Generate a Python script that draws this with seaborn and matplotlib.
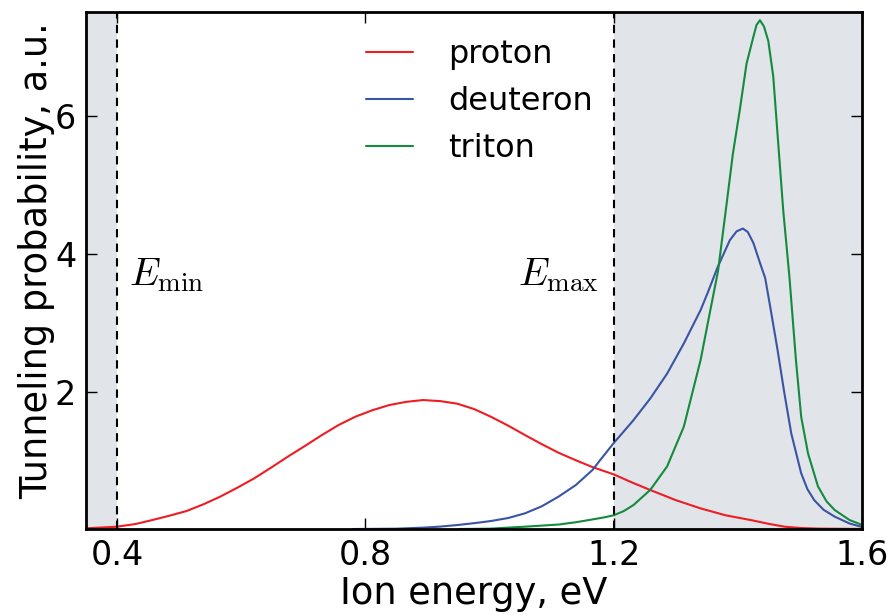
import numpy as np
import pandas as pd
import matplotlib
matplotlib.use("Agg")
import matplotlib.pyplot as plt
import seaborn as sns

# ---- data ----
proton_E = [0.35, 0.40, 0.43, 0.457, 0.485, 0.512, 0.539, 0.566, 0.594, 0.621, 0.648,
            0.675, 0.703, 0.730, 0.757, 0.784, 0.812, 0.839, 0.866, 0.893, 0.921,
            0.948, 0.975, 1.002, 1.030, 1.057, 1.084, 1.111, 1.139, 1.166, 1.20,
            1.23, 1.259, 1.30, 1.340, 1.38, 1.421, 1.45, 1.475, 1.50, 1.53, 1.60]
proton_P = [0.01, 0.034, 0.073, 0.131, 0.195, 0.262, 0.359, 0.47, 0.602, 0.737, 0.892,
            1.052, 1.21, 1.367, 1.513, 1.634, 1.73, 1.804, 1.85, 1.876, 1.86,
            1.823, 1.745, 1.634, 1.504, 1.367, 1.235, 1.11, 1.0, 0.9, 0.795,
            0.675, 0.567, 0.42, 0.30, 0.20, 0.13, 0.075, 0.034, 0.015, 0.006, 0.001]

deuteron_E = [0.78, 0.85, 0.893, 0.92, 0.948, 0.975, 1.002, 1.03, 1.057, 1.084, 1.111,
              1.139, 1.166, 1.178, 1.20, 1.232, 1.259, 1.286, 1.313, 1.340, 1.352,
              1.367, 1.378, 1.387, 1.398, 1.408, 1.416, 1.425, 1.436, 1.444, 1.453,
              1.464, 1.475, 1.486, 1.502, 1.512, 1.523, 1.538, 1.556, 1.58, 1.60]
deuteron_P = [0.0, 0.005, 0.02, 0.035, 0.058, 0.085, 0.116, 0.16, 0.228, 0.33, 0.47,
              0.64, 0.86, 1.0, 1.25, 1.585, 1.90, 2.26, 2.70, 3.185, 3.45,
              3.8, 4.02, 4.20, 4.33, 4.37, 4.32, 4.16, 3.86, 3.65, 3.185,
              2.60, 1.97, 1.39, 0.81, 0.58, 0.42, 0.28, 0.18, 0.08, 0.03]

triton_E = [0.95, 1.0, 1.057, 1.111, 1.14, 1.166, 1.185, 1.20, 1.216, 1.232, 1.259,
            1.286, 1.313, 1.340, 1.356, 1.368, 1.382, 1.392, 1.403, 1.414, 1.425,
            1.430, 1.4355, 1.442, 1.449, 1.457, 1.465, 1.473, 1.483, 1.4935, 1.502,
            1.513, 1.529, 1.543, 1.556, 1.58, 1.60]
triton_P = [0.0, 0.005, 0.034, 0.065, 0.1, 0.14, 0.17, 0.2, 0.26, 0.35, 0.57,
            0.91, 1.49, 2.46, 3.2, 3.75, 4.74, 5.46, 6.09, 6.77, 7.16,
            7.33, 7.40, 7.31, 7.10, 6.58, 5.61, 4.64, 3.67, 2.46, 1.63,
            1.10, 0.62, 0.40, 0.276, 0.13, 0.06]

labels = ["proton", "deuteron", "triton"]
colors = ["#ee1d23", "#3a54a4", "#148a3e"]
x_ticks = [0.4, 0.8, 1.2, 1.6]
y_ticks = [2, 4, 6]
E_min, E_max = 0.4, 1.2

df = pd.concat([
    pd.DataFrame({"E": proton_E, "P": proton_P, "particle": labels[0]}),
    pd.DataFrame({"E": deuteron_E, "P": deuteron_P, "particle": labels[1]}),
    pd.DataFrame({"E": triton_E, "P": triton_P, "particle": labels[2]}),
])

sns.set_style("ticks")
plt.rcParams["font.family"] = ["DejaVu Sans"]
plt.rcParams["mathtext.fontset"] = "cm"
plt.rcParams["text.color"] = "black"
plt.rcParams["axes.labelcolor"] = "black"
plt.rcParams["xtick.color"] = "black"
plt.rcParams["ytick.color"] = "black"

fig = plt.figure(figsize=(8.91, 6.15), dpi=100)
ax = fig.add_axes([0.0965, 0.1398, 0.871, 0.8407])

shade = "#e1e4e8"
ax.axvspan(0.35, E_min, color=shade, zorder=0, lw=0)
ax.axvspan(E_max, 1.6, color=shade, zorder=0, lw=0)

sns.lineplot(data=df, x="E", y="P", hue="particle", hue_order=labels,
             palette=dict(zip(labels, colors)), ax=ax, lw=1.5,
             sort=False, estimator=None)

for xv in (E_min, E_max):
    ax.axvline(xv, color="black", ls="--", lw=1.5, dashes=(4, 3), zorder=3)

ax.text(0.419, 3.69, r"$E_{\rm min}$", fontsize=28, va="center", ha="left")
ax.text(1.177, 3.69, r"$E_{\rm max}$", fontsize=28, va="center", ha="right")

ax.set_xlim(0.35, 1.6)
ax.set_ylim(0, 7.52)
ax.set_xticks(x_ticks)
ax.set_xticklabels([f"{v:.1f}" for v in x_ticks])
ax.set_yticks(y_ticks)
ax.tick_params(direction="in", length=8, width=1, top=True, right=True,
               labelsize=24, pad=7)
for s in ax.spines.values():
    s.set_linewidth(2)
    s.set_color("black")
    s.set_visible(True)

ax.set_xlabel("Ion energy, eV", fontsize=26.5, labelpad=2)
ax.set_ylabel("Tunneling probability, a.u.", fontsize=26.5, labelpad=4)
ax.yaxis.set_label_coords(-0.040, 0.52)

leg = ax.legend(loc="upper center", bbox_to_anchor=(0.507, 1.0), frameon=False,
                fontsize=23, handlelength=1.45, handletextpad=1.1,
                labelspacing=0.5, borderaxespad=0.45)
for h in leg.get_lines():
    h.set_linewidth(1.5)

fig.savefig("out.png", dpi=100)
